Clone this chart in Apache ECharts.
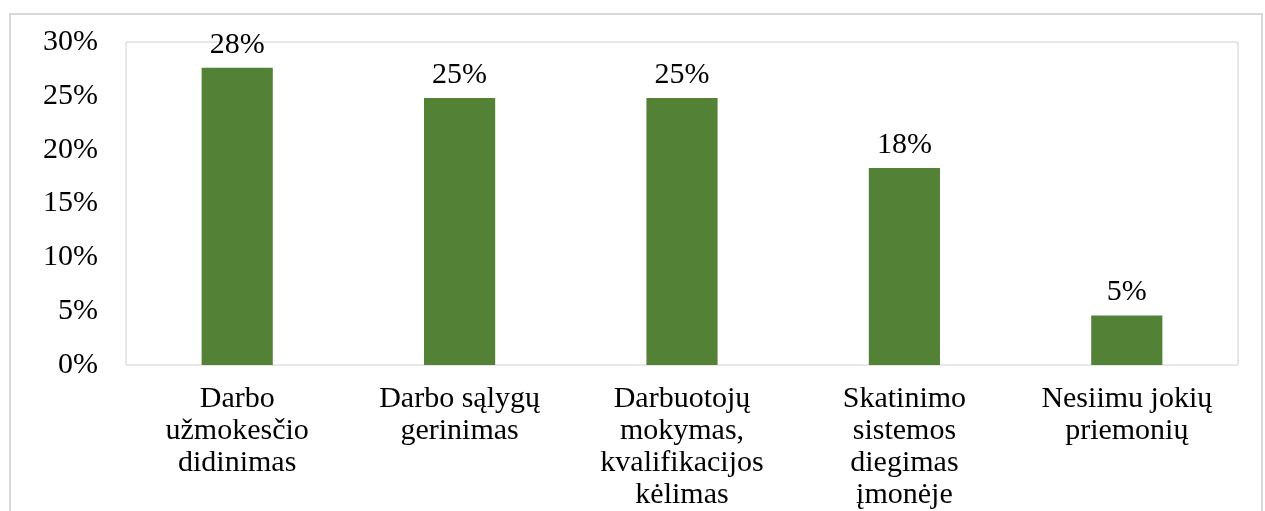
<!DOCTYPE html>
<html>
<head>
<meta charset="utf-8">
<script src="https://cdn.jsdelivr.net/npm/echarts@6/dist/echarts.min.js"></script>
<style>
  html, body { margin: 0; padding: 0; background: #fff; }
  #frame { position: absolute; left: 9px; top: 13px; width: 1254px; height: 520px; border: 2px solid #d9d9d9; box-sizing: border-box; }
  #chart { position: absolute; left: 0; top: 0; width: 1265px; height: 511px; }
</style>
</head>
<body>
<div id="frame"></div>
<div id="chart"></div>
<script>
// categories and values (percent)
var categories = [
  'Darbo\nužmokesčio\ndidinimas',
  'Darbo sąlygų\ngerinimas',
  'Darbuotojų\nmokymas,\nkvalifikacijos\nkėlimas',
  'Skatinimo\nsistemos\ndiegimas\nįmonėje',
  'Nesiimu jokių\npriemonių'
]
var values = [27.6, 24.8, 24.8, 18.3, 4.6]
var yTicks = [0, 5, 10, 15, 20, 25, 30]

var font = 'Liberation Serif'
var chart = echarts.init(document.getElementById('chart'))
chart.setOption({
  animation: false,
  grid: {
    left: 126, top: 42, right: 27, bottom: 146,
    show: true, borderColor: '#d0d0d0', borderWidth: 1,
    containLabel: false
  },
  xAxis: {
    type: 'category',
    data: categories,
    axisLine: { show: false },
    axisTick: { show: false },
    axisLabel: {
      interval: 0, margin: 18,
      fontFamily: font, fontSize: 30, lineHeight: 32, color: '#000'
    }
  },
  yAxis: {
    type: 'value',
    min: yTicks[0], max: yTicks[yTicks.length - 1], interval: 5,
    axisLine: { show: false },
    axisTick: { show: false },
    splitLine: { show: false },
    axisLabel: {
      margin: 28,
      fontFamily: font, fontSize: 30, color: '#000',
      formatter: function (v) { return v + '%' }
    }
  },
  series: [{
    type: 'bar',
    data: values,
    barWidth: '32%',
    itemStyle: { color: '#538135' },
    label: {
      show: true, position: 'top', distance: 8,
      fontFamily: font, fontSize: 30, color: '#000',
      formatter: function (p) { return Math.round(p.value) + '%' }
    }
  }]
})
</script>
</body>
</html>
